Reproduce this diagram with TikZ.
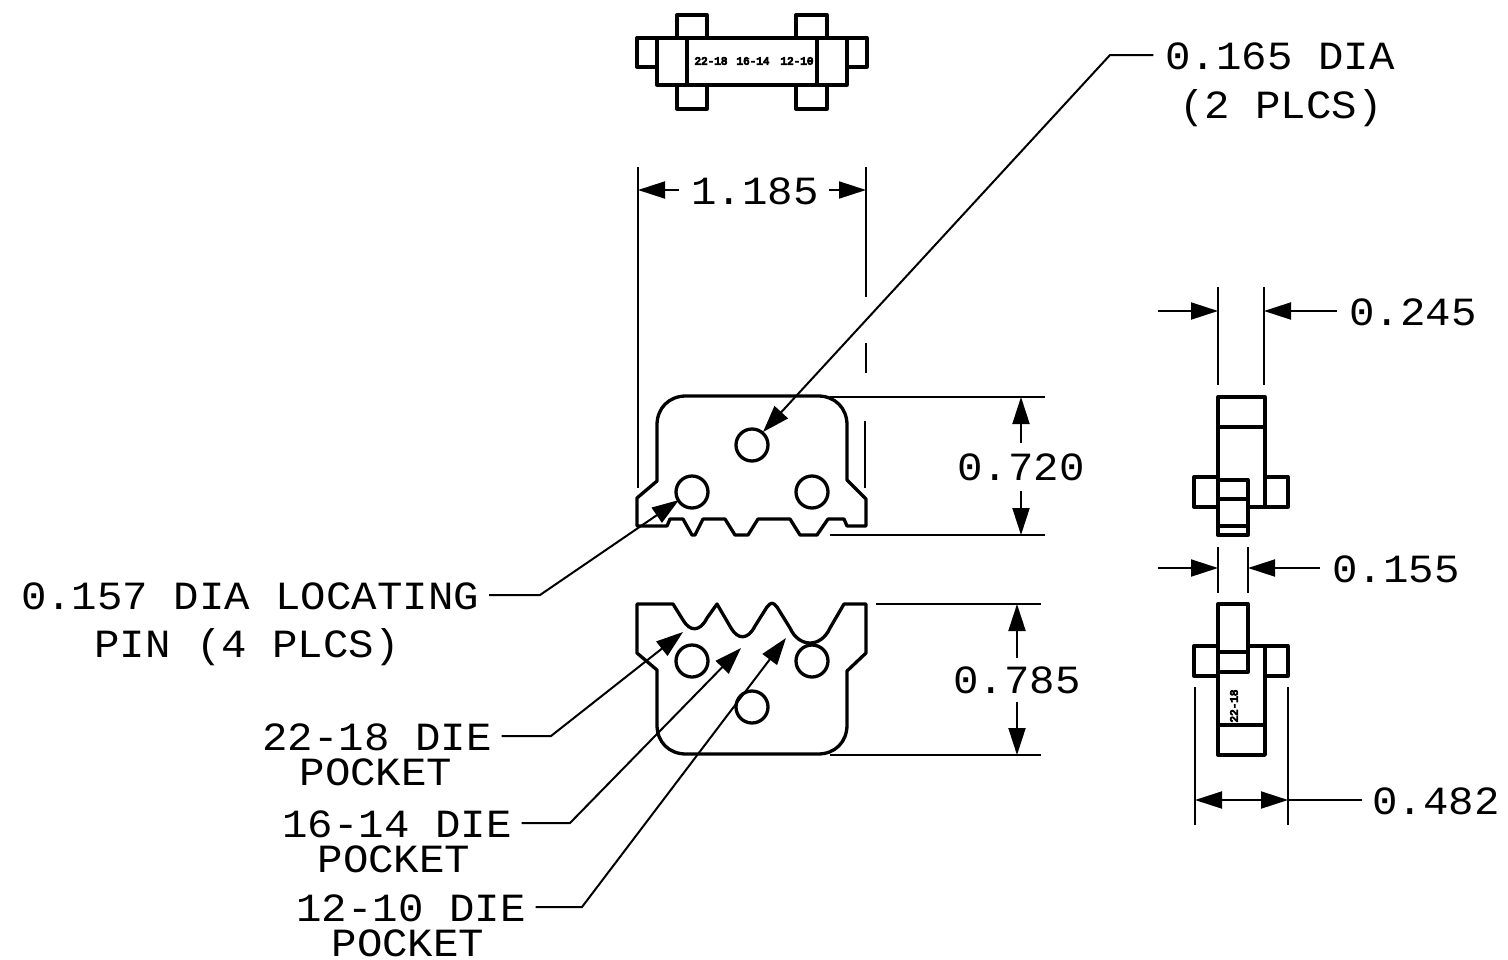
\documentclass[tikz,border=0pt]{standalone}
\usepackage{fontspec}
\setmainfont[FakeStretch=1.06]{Liberation Mono}
\newfontfamily\blobfont[FakeBold=8]{Liberation Mono}
\usetikzlibrary{arrows.meta}
\begin{document}
\begin{tikzpicture}[x=1pt, y=-1pt]
    \tikzstyle{part} = [line width=3.3pt, line join=round, line cap=round]
    \tikzstyle{thin} = [line width=2pt]
    \tikzstyle{dim} = [line width=2pt, -{Triangle[length=27pt, width=17pt]}]
    \tikzstyle{leader} = [line width=2pt, -{Triangle[length=27pt, width=18pt]}]
    \tikzstyle{dimtext} = [inner sep=0pt, text height=27pt, text depth=0pt, font=\fontsize{40}{40}\selectfont]
    \tikzstyle{tiny} = [inner sep=0pt, font=\blobfont\fontsize{11}{11}\selectfont]

    \useasboundingbox (0,0) rectangle (1508,959);

    % top view
    \draw[part] (657,38) rectangle (847,85);
    \draw[part] (687,38) -- (687,85);
    \draw[part] (817,38) -- (817,85);
    \draw[part] (657,38) -- (637,38) -- (637,67) -- (657,67);
    \draw[part] (847,38) -- (867,38) -- (867,67) -- (847,67);
    \draw[part] (677,38) -- (677,15) -- (707,15) -- (707,38);
    \draw[part] (796,38) -- (796,15) -- (827,15) -- (827,38);
    \draw[part] (677,85) -- (677,109) -- (707,109) -- (707,85);
    \draw[part] (796,85) -- (796,109) -- (827,109) -- (827,85);
    \node[tiny] (dieone) at (711,61) {22-18};
    \node[tiny] (dietwo) at (753,61) {16-14};
    \node[tiny] (diethree) at (797,61) {12-10};

    % upper die
    \draw[part] (637,526) -- (637,498) -- (657,481) -- (657,425)
        .. controls (657,408) and (669,396) .. (686,396) -- (818,396)
        .. controls (835,396) and (847,408) .. (847,425) -- (847,480) -- (866,499) -- (866,526)
        -- (847,526) -- (844,519) -- (828,519) -- (817,535) -- (800,535) -- (790,519) -- (758,519)
        -- (748,535) -- (735,535) -- (725,519) -- (703,519) -- (695,535) -- (692,535) -- (683,519)
        -- (670,519) -- (667,526) -- cycle;
    \draw[part] (752,445) circle (16);
    \draw[part] (692,492) circle (16);
    \draw[part] (812,492) circle (16);

    % lower die
    \draw[part] (637,604) -- (637,653) -- (657,670) -- (657,725)
        .. controls (657,742) and (669,754) .. (686,754) -- (818,754)
        .. controls (835,754) and (847,742) .. (847,725) -- (847,671) -- (866,653) -- (866,604) -- (844,604)
        -- (830,628) .. controls (821,648) and (799,648) .. (790,628)
        -- (777,607) .. controls (773,602) and (771,602) .. (767,607)
        -- (755,626) .. controls (748,640) and (738,640) .. (731,628)
        -- (717,604) -- (707,618) .. controls (700,632) and (690,632) .. (683,620)
        -- (673,604) -- cycle;
    \draw[part] (692,661) circle (16);
    \draw[part] (812,661) circle (16);
    \draw[part] (752,707) circle (16);

    % side view, upper
    \draw[part] (1218,397) rectangle (1265,427);
    \draw[part] (1218,427) -- (1218,535);
    \draw[part] (1265,427) -- (1265,507);
    \draw[part] (1218,477) -- (1194,477) -- (1194,507) -- (1218,507);
    \draw[part] (1265,477) -- (1288,477) -- (1288,507) -- (1248,507);
    \draw[part] (1218,480) rectangle (1248,535);
    \draw[part] (1218,499) -- (1248,499);
    \draw[part] (1218,526) -- (1248,526);

    % side view, lower
    \draw[part] (1218,604) rectangle (1248,672);
    \draw[part] (1218,652) -- (1248,652);
    \draw[part] (1218,646) -- (1194,646) -- (1194,676) -- (1218,676);
    \draw[part] (1248,646) -- (1288,646) -- (1288,676) -- (1265,676);
    \draw[part] (1265,646) -- (1265,755) -- (1218,755) -- (1218,672);
    \draw[part] (1218,725) -- (1265,725);
    \node[tiny, rotate=90] (dieside) at (1234,706) {22-18};

    % dimension 1.185
    \draw[thin] (638,167) -- (638,488);
    \draw[thin] (866,167) -- (866,297);
    \draw[thin] (866,343) -- (866,373);
    \draw[thin] (865,421) -- (865,488);
    \node[dimtext] (dimwidth) at (755,191) {1.185};
    \draw[dim] (dimwidth.west) ++(-12,-1) -- (638,190);
    \draw[dim] (dimwidth.east) ++(10,-1) -- (866,190);

    % dimension 0.720
    \draw[thin] (830,397) -- (1045,397);
    \draw[thin] (830,535) -- (1045,535);
    \node[dimtext] (dimupper) at (1021,467) {0.720};
    \draw[dim] (dimupper.north) ++(0,-10) -- (1021,397);
    \draw[dim] (dimupper.south) ++(0,10) -- (1021,535);

    % dimension 0.785
    \draw[thin] (876,604) -- (1041,604);
    \draw[thin] (830,755) -- (1041,755);
    \node[dimtext] (dimlower) at (1017,680) {0.785};
    \draw[dim] (dimlower.north) ++(0,-8) -- (1017,604);
    \draw[dim] (dimlower.south) ++(0,8) -- (1017,755);

    % dimension 0.245
    \draw[thin] (1218,287) -- (1218,385);
    \draw[thin] (1264,287) -- (1264,385);
    \node[dimtext] (dimthick) at (1413,312) {0.245};
    \coordinate (thicka) at (1158,311);
    \draw[dim] (thicka) -- (1218,311);
    \draw[dim] (dimthick.west) ++(-12,-1) -- (1264,311);

    % dimension 0.155
    \draw[thin] (1218,547) -- (1218,593);
    \draw[thin] (1248,547) -- (1248,593);
    \node[dimtext] (dimthin) at (1396,569) {0.155};
    \coordinate (thina) at (1158,568);
    \draw[dim] (thina) -- (1218,568);
    \draw[dim] (dimthin.west) ++(-12,-1) -- (1248,568);

    % dimension 0.482
    \draw[thin] (1195,687) -- (1195,825);
    \draw[thin] (1288,687) -- (1288,825);
    \node[dimtext] (dimtab) at (1436,801) {0.482};
    \coordinate (taba) at (1240,800);
    \draw[dim] (taba) -- (1195,800);
    \draw[dim] (taba) -- (1288,800);
    \draw[thin] (dimtab.west) ++(-10,-1) -- (1288,800);

    % leaders
    \node[dimtext] (holetext) at (1280,56) {0.165 DIA};
    \node[dimtext] (holeplcs) at (1281,105) {(2 PLCS)};
    \coordinate (holeknee) at (1110,55);
    \coordinate (holetip) at (763,432);
    \draw[leader] (holetext.west) ++(-12,-1) -- (holeknee) -- (holetip);

    \node[dimtext] (pintext) at (250,596) {0.157 DIA LOCATING};
    \node[dimtext] (pinplcs) at (247,644) {PIN (4 PLCS)};
    \coordinate (pinknee) at (540,595);
    \coordinate (pintip) at (679,500);
    \draw[leader] (pintext.east) ++(10,-1) -- (pinknee) -- (pintip);

    \node[dimtext] (smalltext) at (377,737) {22-18 DIE};
    \node[dimtext] (smallpocket) at (376,772) {POCKET};
    \coordinate (smallknee) at (551,736);
    \coordinate (smalltip) at (683,632);
    \draw[leader] (smalltext.east) ++(10,-1) -- (smallknee) -- (smalltip);

    \node[dimtext] (midtext) at (397,824) {16-14 DIE};
    \node[dimtext] (midpocket) at (394,859) {POCKET};
    \coordinate (midknee) at (570,823);
    \coordinate (midtip) at (741,648);
    \draw[leader] (midtext.east) ++(10,-1) -- (midknee) -- (midtip);

    \node[dimtext] (bigtext) at (411,908) {12-10 DIE};
    \node[dimtext] (bigpocket) at (408,943) {POCKET};
    \coordinate (bigknee) at (582,907);
    \coordinate (bigtip) at (786,638);
    \draw[leader] (bigtext.east) ++(10,-1) -- (bigknee) -- (bigtip);
\end{tikzpicture}
\end{document}
